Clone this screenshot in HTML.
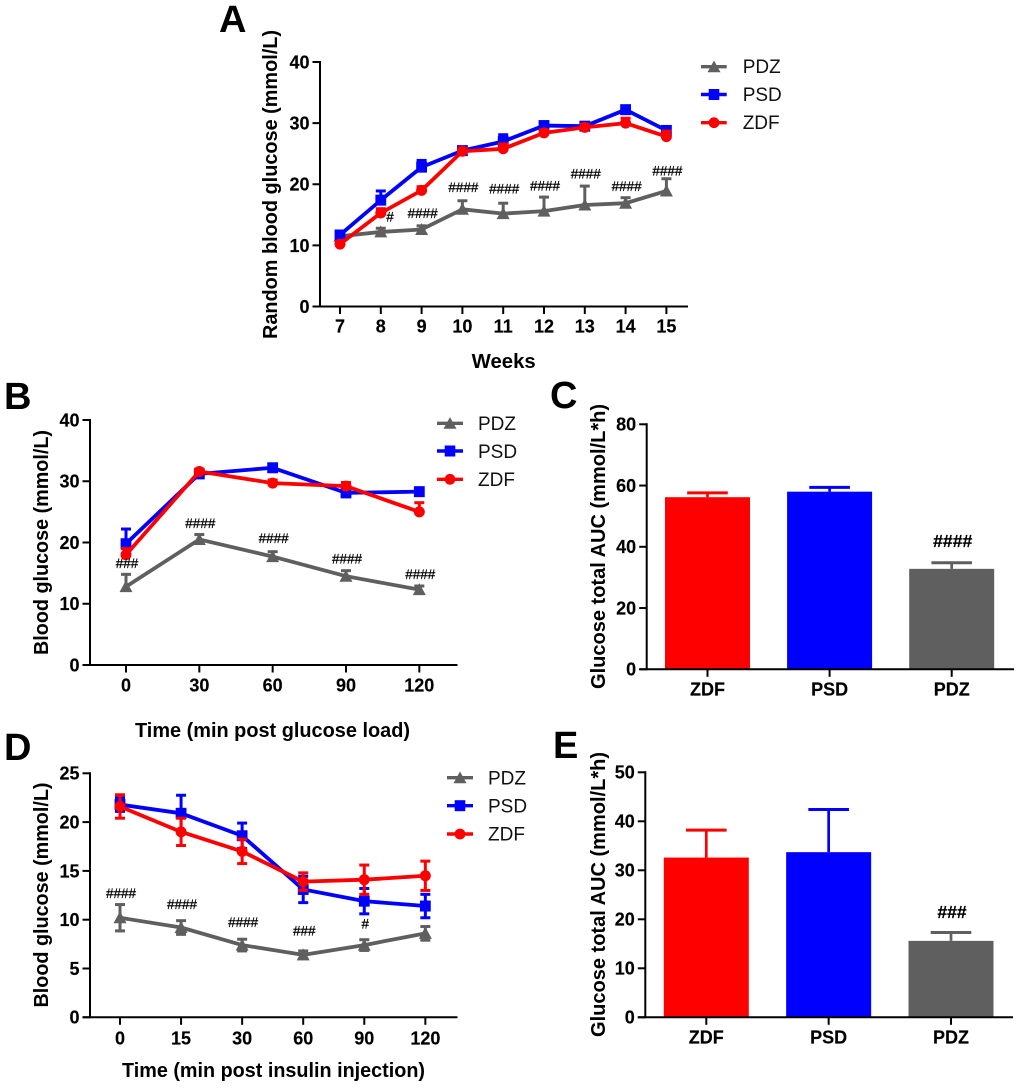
<!DOCTYPE html>
<html lang="en">
<head>
<meta charset="utf-8">
<title>Blood glucose charts</title>
<style>
  html, body { margin: 0; padding: 0; background: #fff; }
  svg { display: block; }
  text { font-family: "Liberation Sans", Arial, sans-serif; fill: #000; }
  .b { font-weight: bold; stroke: #000; stroke-width: 0.15px; }
  .letter { font-weight: bold; font-size: 38px; }
  .title { font-weight: bold; font-size: 20px; }
  .leg { font-size: 19px; fill: #111; }
  .hash { stroke: #000; stroke-width: 0.25px; }
</style>
</head>
<body>
<svg id="figure" width="1020" height="1088" viewBox="0 0 1020 1088" xmlns="http://www.w3.org/2000/svg">
  <rect x="0" y="0" width="1020" height="1088" fill="#fff"/>

  <g id="panelA">
    <text class="letter" x="219" y="32">A</text>
    <text class="title" transform="rotate(-90 277 184.5)" x="277" y="184.5" text-anchor="middle" textLength="309" lengthAdjust="spacingAndGlyphs">Random blood glucose (mmol/L)</text>
    <text class="title" x="503.7" y="368" text-anchor="middle" textLength="64" lengthAdjust="spacingAndGlyphs">Weeks</text>
    <g>
      <g>
        <line x1="701" x2="726.7" y1="66.7" y2="66.7" stroke="#5f5f5f" stroke-width="3.4"/>
        <polygon points="707.5,72.2 720.5,72.2 714,60.5" fill="#5f5f5f"/>
        <text class="leg" x="742.7" y="72.9">PDZ</text>
      </g>
      <g>
        <line x1="701" x2="726.7" y1="94.5" y2="94.5" stroke="#0000ff" stroke-width="3.4"/>
        <rect x="708.7" y="89" width="10.6" height="11" fill="#0000ff"/>
        <text class="leg" x="742.7" y="100.8">PSD</text>
      </g>
      <g>
        <line x1="701" x2="726.7" y1="122.7" y2="122.7" stroke="#ff0000" stroke-width="3.4"/>
        <circle cx="714" cy="122.7" r="5.4" fill="#ff0000"/>
        <text class="leg" x="742.7" y="128.8">ZDF</text>
      </g>
    </g>
  </g>

  <g id="panelB">
    <text class="letter" x="4" y="409">B</text>
    <text class="title" transform="rotate(-90 48 542.5)" x="48" y="542.5" text-anchor="middle" textLength="225" lengthAdjust="spacingAndGlyphs">Blood glucose (mmol/L)</text>
    <text class="title" x="272.5" y="737" text-anchor="middle" textLength="275" lengthAdjust="spacingAndGlyphs">Time (min post glucose load)</text>
    <g>
      <g>
        <line x1="437" x2="463" y1="423.3" y2="423.3" stroke="#5f5f5f" stroke-width="3.4"/>
        <polygon points="443.5,428.8 456.5,428.8 450,417.1" fill="#5f5f5f"/>
        <text class="leg" x="478" y="430">PDZ</text>
      </g>
      <g>
        <line x1="437" x2="463" y1="451" y2="451" stroke="#0000ff" stroke-width="3.4"/>
        <rect x="444.7" y="445.5" width="10.6" height="11" fill="#0000ff"/>
        <text class="leg" x="478" y="458">PSD</text>
      </g>
      <g>
        <line x1="437" x2="463" y1="479.3" y2="479.3" stroke="#ff0000" stroke-width="3.4"/>
        <circle cx="450" cy="479.3" r="5.4" fill="#ff0000"/>
        <text class="leg" x="478" y="486">ZDF</text>
      </g>
    </g>
  </g>

  <g id="panelC">
    <text class="letter" x="550" y="408">C</text>
    <text class="title" transform="rotate(-90 605 546.5)" x="605" y="546.5" text-anchor="middle" textLength="285" lengthAdjust="spacingAndGlyphs">Glucose total AUC (mmol/L*h)</text>
  </g>

  <g id="panelD">
    <text class="letter" x="4" y="760">D</text>
    <text class="title" transform="rotate(-90 48 895)" x="48" y="895" text-anchor="middle" textLength="225" lengthAdjust="spacingAndGlyphs">Blood glucose (mmol/L)</text>
    <text class="title" x="273.5" y="1077" text-anchor="middle" textLength="303" lengthAdjust="spacingAndGlyphs">Time (min post insulin injection)</text>
    <g>
      <g>
        <line x1="447" x2="473" y1="777.7" y2="777.7" stroke="#5f5f5f" stroke-width="3.4"/>
        <polygon points="453.5,783.2 466.5,783.2 460,771.5" fill="#5f5f5f"/>
        <text class="leg" x="488" y="784.5">PDZ</text>
      </g>
      <g>
        <line x1="447" x2="473" y1="805.7" y2="805.7" stroke="#0000ff" stroke-width="3.4"/>
        <rect x="454.7" y="800.2" width="10.6" height="11" fill="#0000ff"/>
        <text class="leg" x="488" y="812.5">PSD</text>
      </g>
      <g>
        <line x1="447" x2="473" y1="834" y2="834" stroke="#ff0000" stroke-width="3.4"/>
        <circle cx="460" cy="834" r="5.4" fill="#ff0000"/>
        <text class="leg" x="488" y="840.5">ZDF</text>
      </g>
    </g>
  </g>

  <g id="panelE">
    <text class="letter" x="553" y="758">E</text>
    <text class="title" transform="rotate(-90 605 894.5)" x="605" y="894.5" text-anchor="middle" textLength="285" lengthAdjust="spacingAndGlyphs">Glucose total AUC (mmol/L*h)</text>
  </g>
</svg>

<script>
// ---- Panel A data ----
const weeksA = ['7','8','9','10','11','12','13','14','15'];
const yTicksA = [0,10,20,30,40];
const pdzA = [11.5,12.2,12.6,15.9,15.2,15.6,16.6,16.9,18.9];
const psdA = [11.7,17.4,22.8,25.5,27.0,29.6,29.5,32.2,28.8];
const zdfA = [10.2,15.3,19.0,25.4,25.8,28.4,29.3,30.0,27.8];
const pdzErrA = [0.4,0.6,0.6,1.4,1.7,2.3,3.1,0.9,2.0];
const psdErrA = [0.6,1.5,1.1,0.6,1.1,0.4,0.4,0.4,0.4];
const zdfErrA = [0.4,0.7,0.6,0.5,0.8,0.5,0.5,0.8,0.9];
const marksA = ['#','####','####','####','####','####','####','####'];
const markIdxA = [1.2,2,3,4,5,6,7,8];
const markValA = [14.7,15.3,19.5,19.3,19.8,21.7,19.7,22.2];

// ---- Panel B data ----
const timesB = ['0','30','60','90','120'];
const yTicksB = [0,10,20,30,40];
const pdzB = [12.8,20.5,17.7,14.5,12.3];
const psdB = [19.8,31.2,32.2,28.1,28.3];
const zdfB = [18.0,31.6,29.7,29.2,25.0];
const pdzErrB = [2.0,0.8,0.8,0.9,0.6];
const psdErrB = [2.4,0.5,0.4,0.6,0.4];
const zdfErrB = [1.0,0.4,0.5,0.6,1.5];
const marksB = ['###','####','####','####','####'];
const markIdxB = [0,1,2,3,4];
const markValB = [16.6,23.2,20.7,17.4,14.8];

// ---- Panel C data ----
const groupsC = ['ZDF','PSD','PDZ'];
const yTicksC = [0,20,40,60,80];
const aucC = [56.2,58.0,32.8];
const aucErrC = [1.4,1.4,2.0];
const marksC = ['','','####'];
const markValC = [0,0,42.0];

// ---- Panel D data ----
const timesD = ['0','15','30','60','90','120'];
const yTicksD = [0,5,10,15,20,25];
const pdzD = [10.2,9.2,7.4,6.4,7.4,8.6];
const psdD = [21.8,20.9,18.6,13.1,11.9,11.4];
const zdfD = [21.6,19.0,17.0,13.9,14.1,14.5];
const pdzErrD = [1.35,0.7,0.6,0.4,0.55,0.7];
const psdErrD = [0.7,1.85,1.3,1.35,1.3,1.2];
const zdfErrD = [1.2,1.4,1.25,0.9,1.5,1.5];
const marksD = ['####','####','####','###','#'];
const markIdxD = [0,1,2,3,4];
const markValD = [12.7,11.6,9.75,8.9,9.6];

// ---- Panel E data ----
const groupsE = ['ZDF','PSD','PDZ'];
const yTicksE = [0,10,20,30,40,50];
const aucE = [32.6,33.7,15.6];
const aucErrE = [5.6,8.7,1.7];
const marksE = ['','','###'];
const markValE = [0,0,21.6];

const GRAY = '#5f5f5f', BLUE = '#0000ff', RED = '#ff0000';
const NS = 'http://www.w3.org/2000/svg';

function make(tag, attrs, parent) {
  const node = document.createElementNS(NS, tag);
  for (const key in attrs) node.setAttribute(key, attrs[key]);
  parent.appendChild(node);
  return node;
}

function linearY(y0, yTop, maxVal) {
  return function (v) { return y0 - (v / maxVal) * (y0 - yTop); };
}

function drawAxes(group, o) {
  const axes = make('g', {}, group);
  
  
  const sw = 2;
  const yAxis = make('line', {x1:o.axisX, x2:o.axisX, y1:o.yTop - sw/2, y2:o.y0 + sw/2, stroke:'#000', 'stroke-width':sw}, axes);
  
  
  const xAxis = make('line', {x1:o.axisX - 7.5, x2:o.xEnd, y1:o.y0, y2:o.y0, stroke:'#000', 'stroke-width':sw}, axes);
  
  
  o.yTicks.forEach(function (v) {
    const py = o.y(v);
    const tick = make('line', {x1:o.axisX - 7.5, x2:o.axisX, y1:py, y2:py, stroke:'#000', 'stroke-width':sw}, axes);
    
    
    const label = make('text', {x:o.axisX - 10.5, y:py + 6.4, 'text-anchor':'end', class:'b', 'font-size':18}, axes);
    label.textContent = String(v);
    
    
  });
  o.categories.forEach(function (c, i) {
    const px = o.x(i);
    const tick = make('line', {x1:px, x2:px, y1:o.y0, y2:o.y0 + 7.5, stroke:'#000', 'stroke-width':sw}, axes);
    
    
    const label = make('text', {x:px, y:o.labelY, 'text-anchor':'middle', class:'b', 'font-size':18}, axes);
    label.textContent = c;
    
    
  });
}

function drawSeries(group, o, name, values, errUp, errDown, color, marker) {
  const g = make('g', {}, group);
  
  
  values.forEach(function (v, i) {
    const px = o.x(i);
    const top = o.y(v + errUp[i]);
    const bottom = errDown ? o.y(v - errDown[i]) : o.y(v);
    const bar = make('line', {x1:px, x2:px, y1:top, y2:bottom, stroke:color, 'stroke-width':3}, g);
    
    
    const cap = make('line', {x1:px - 5, x2:px + 5, y1:top, y2:top, stroke:color, 'stroke-width':3}, g);
    
    
    if (errDown) {
      const capLow = make('line', {x1:px - 5, x2:px + 5, y1:bottom, y2:bottom, stroke:color, 'stroke-width':3}, g);
      
      
    }
  });
  const pts = values.map(function (v, i) { return o.x(i) + ',' + o.y(v); }).join(' ');
  const line = make('polyline', {points:pts, fill:'none', stroke:color, 'stroke-width':3.8, 'stroke-linejoin':'round'}, g);
  
  
  values.forEach(function (v, i) {
    const px = o.x(i), py = o.y(v);
    let m;
    if (marker === 'triangle') {
      m = make('polygon', {points:(px - 6.5) + ',' + (py + 5.5) + ' ' + (px + 6.5) + ',' + (py + 5.5) + ' ' + px + ',' + (py - 6.5), fill:color}, g);
    } else if (marker === 'square') {
      m = make('rect', {x:px - 5.4, y:py - 5.5, width:10.8, height:11, fill:color}, g);
    } else {
      m = make('circle', {cx:px, cy:py, r:5.5, fill:color}, g);
    }
    
    
  });
}

function drawMarks(group, o, labels, idx, vals, size, bold) {
  labels.forEach(function (t, i) {
    if (!t) return;
    const label = make('text', {x:o.x(idx[i]) + 1, y:o.y(vals[i]) + size * 0.36, 'text-anchor':'middle', 'font-size':size, class:'hash'}, group);
    if (bold) label.setAttribute('font-weight', 'bold');
    label.textContent = t;
    
    
  });
}

function drawBars(group, o, values, errs, colors, names) {
  values.forEach(function (v, i) {
    const px = o.x(i);
    const g = make('g', {}, group);
    
    
    const top = o.y(v + errs[i]);
    make('line', {x1:px, x2:px, y1:top, y2:o.y(v), stroke:colors[i], 'stroke-width':2.7}, g);
    make('line', {x1:px - 20.3, x2:px + 20.3, y1:top, y2:top, stroke:colors[i], 'stroke-width':3}, g);
    make('rect', {x:px - 42.5, y:o.y(v), width:85, height:o.y0 - o.y(v), fill:colors[i]}, g);
  });
}

// ---- Panel A ----
const groupA = document.getElementById('panelA');
const axisA = {axisX:320, y0:306.5, yTop:62, xEnd:688, categories:weeksA, yTicks:yTicksA, labelY:332.5,
  x:function (i) { return 340 + i * 40.8; }, y:linearY(306.5, 62, 40)};
drawAxes(groupA, axisA);
drawSeries(groupA, axisA, 'pdz', pdzA, pdzErrA, null, GRAY, 'triangle');
drawSeries(groupA, axisA, 'psd', psdA, psdErrA, null, BLUE, 'square');
drawSeries(groupA, axisA, 'zdf', zdfA, zdfErrA, null, RED, 'circle');
drawMarks(groupA, axisA, marksA, markIdxA, markValA, 13.5, false);

// ---- Panel B ----
const groupB = document.getElementById('panelB');
const axisB = {axisX:90, y0:665, yTop:420, xEnd:457.5, categories:timesB, yTicks:yTicksB, labelY:691.5,
  x:function (i) { return 126 + i * 73.33; }, y:linearY(665, 420, 40)};
drawAxes(groupB, axisB);
drawSeries(groupB, axisB, 'pdz', pdzB, pdzErrB, null, GRAY, 'triangle');
drawSeries(groupB, axisB, 'psd', psdB, psdErrB, null, BLUE, 'square');
drawSeries(groupB, axisB, 'zdf', zdfB, zdfErrB, null, RED, 'circle');
drawMarks(groupB, axisB, marksB, markIdxB, markValB, 13.5, false);

// ---- Panel C ----
const groupC = document.getElementById('panelC');
const axisC = {axisX:646.7, y0:669.3, yTop:424.3, xEnd:1014, categories:groupsC, yTicks:yTicksC, labelY:695.7,
  x:function (i) { return 707.5 + i * 122.1; }, y:linearY(669.3, 424.3, 80)};
drawBars(groupC, axisC, aucC, aucErrC, [RED, BLUE, GRAY], groupsC);
drawAxes(groupC, axisC);
drawMarks(groupC, axisC, marksC, [0,1,2], markValC, 17.6, true);

// ---- Panel D ----
const groupD = document.getElementById('panelD');
const axisD = {axisX:90, y0:1017.3, yTop:773.3, xEnd:457.5, categories:timesD, yTicks:yTicksD, labelY:1044.5,
  x:function (i) { return 120 + i * 61.07; }, y:linearY(1017.3, 773.3, 25)};
drawAxes(groupD, axisD);
drawSeries(groupD, axisD, 'pdz', pdzD, pdzErrD, pdzErrD, GRAY, 'triangle');
drawSeries(groupD, axisD, 'psd', psdD, psdErrD, psdErrD, BLUE, 'square');
drawSeries(groupD, axisD, 'zdf', zdfD, zdfErrD, zdfErrD, RED, 'circle');
drawMarks(groupD, axisD, marksD, markIdxD, markValD, 13.5, false);

// ---- Panel E ----
const groupE = document.getElementById('panelE');
const axisE = {axisX:645.3, y0:1017.3, yTop:772.3, xEnd:1013, categories:groupsE, yTicks:yTicksE, labelY:1043.5,
  x:function (i) { return 706.3 + i * 122.35; }, y:linearY(1017.3, 772.3, 50)};
drawBars(groupE, axisE, aucE, aucErrE, [RED, BLUE, GRAY], groupsE);
drawAxes(groupE, axisE);
drawMarks(groupE, axisE, marksE, [0,1,2], markValE, 17.6, true);
</script>
</body>
</html>
